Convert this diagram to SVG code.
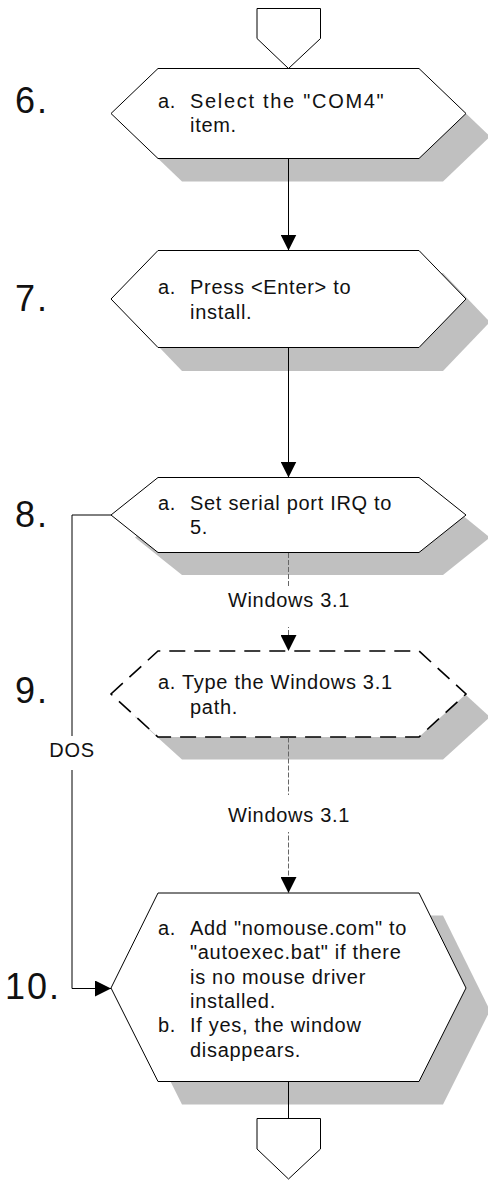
<svg xmlns="http://www.w3.org/2000/svg" width="488" height="1183" viewBox="0 0 488 1183">
<style>
.shadow{fill:#c0c0c0;stroke:none}
.hex{fill:#fff;stroke:#000;stroke-width:1}
.hexd{fill:#fff;stroke:#000;stroke-width:1.6;stroke-dasharray:16 9}
.t{font-family:"Liberation Sans",Arial,sans-serif;font-size:20px;letter-spacing:0.7px;fill:#111}
.num{font-family:"Liberation Sans",Arial,sans-serif;font-size:36px;letter-spacing:2px;fill:#111}
.ln{fill:none;stroke:#000;stroke-width:1}
.dl{fill:none;stroke:#666;stroke-width:1;stroke-dasharray:5 2}
</style>
<defs>
<marker id="ah" markerUnits="userSpaceOnUse" markerWidth="16" markerHeight="16" refX="16" refY="8" orient="auto" viewBox="0 0 16 16">
<path d="M0,0 L16,8 L0,16 Z" fill="#000"/>
</marker>
</defs>
<g id="start">
<polygon class="hex" points="257,8.5 320.5,8.5 320.5,38.5 288.5,68.5 257,38.5"/>
</g>
<g id="step6">
<polygon class="shadow" points="135,136.5 182,91.5 443,91.5 490,136.5 443,181.5 182,181.5"/>
<polygon class="hex" points="111,113.5 158,68.5 419,68.5 466,113.5 419,158.5 158,158.5"/>
<text class="num" x="15" y="113">6.</text>
<text class="t" x="158" y="108">a.</text>
<text class="t" x="190" y="108" style="letter-spacing:1.7px">Select the "COM4"</text>
<text class="t" x="190" y="132">item.</text>
</g>
<g id="step7">
<polygon class="shadow" points="135,322 182,273 443,273 490,322 443,371 182,371"/>
<polygon class="hex" points="111,299 158,250.5 419,250.5 466,299 419,347.5 158,347.5"/>
<text class="num" x="15" y="311">7.</text>
<text class="t" x="158" y="294">a.</text>
<text class="t" x="190" y="294">Press &lt;Enter&gt; to</text>
<text class="t" x="190" y="319">install.</text>
</g>
<g id="step8">
<polygon class="shadow" points="135,537.5 182,499.5 443,499.5 490,537.5 443,575 182,575"/>
<polygon class="hex" points="111,515 158,477.5 419,477.5 466,515 419,552.5 158,552.5"/>
<text class="num" x="15" y="527">8.</text>
<text class="t" x="158" y="510">a.</text>
<text class="t" x="190" y="510">Set serial port IRQ to</text>
<text class="t" x="190" y="534">5.</text>
</g>
<g id="step9">
<polygon class="shadow" points="135,717 182,674 443,674 490,717 443,759.5 182,759.5"/>
<polygon class="hexd" points="111,694 158,651 419,651 466,694 419,737 158,737"/>
<text class="num" x="15" y="703">9.</text>
<text class="t" x="158" y="689">a. Type the Windows 3.1</text>
<text class="t" x="190" y="714">path.</text>
</g>
<g id="step10">
<polygon class="shadow" points="135,1010.5 182,915.5 443,915.5 490,1010.5 443,1104.5 182,1104.5"/>
<polygon class="hex" points="111,988 158,893 419,893 466,988 419,1081.5 158,1081.5"/>
<text class="num" x="5" y="999">10.</text>
<text class="t" x="158" y="935">a.</text>
<text class="t" x="190" y="935">Add "nomouse.com" to</text>
<text class="t" x="190" y="959">"autoexec.bat" if there</text>
<text class="t" x="190" y="984">is no mouse driver</text>
<text class="t" x="190" y="1008">installed.</text>
<text class="t" x="158" y="1032">b.</text>
<text class="t" x="190" y="1032">If yes, the window</text>
<text class="t" x="190" y="1057">disappears.</text>
</g>
<g id="end">
<polygon class="hex" points="257,1118.5 320.5,1118.5 320.5,1149 288.5,1179 257,1149"/>
</g>
<g id="connectors">
<line class="ln" x1="288.5" y1="158.5" x2="288.5" y2="250.5" marker-end="url(#ah)"/>
<line class="ln" x1="288.5" y1="347.5" x2="288.5" y2="477.5" marker-end="url(#ah)"/>
<line class="ln" x1="288.5" y1="1081.5" x2="288.5" y2="1118.5"/>
<line class="dl" x1="288.5" y1="553" x2="288.5" y2="651" marker-end="url(#ah)"/>
<line class="dl" x1="288.5" y1="737.5" x2="288.5" y2="893" marker-end="url(#ah)"/>
<path class="ln" d="M111,515 H72 V988.5 H111" marker-end="url(#ah)"/>
<rect x="222" y="587" width="132" height="40" fill="#fff"/>
<text class="t" x="289" y="607" text-anchor="middle">Windows 3.1</text>
<rect x="222" y="795" width="132" height="37" fill="#fff"/>
<text class="t" x="289" y="822" text-anchor="middle">Windows 3.1</text>
<rect x="45" y="736" width="52" height="34" fill="#fff"/>
<text class="t" x="72" y="757" text-anchor="middle">DOS</text>
</g>
</svg>
